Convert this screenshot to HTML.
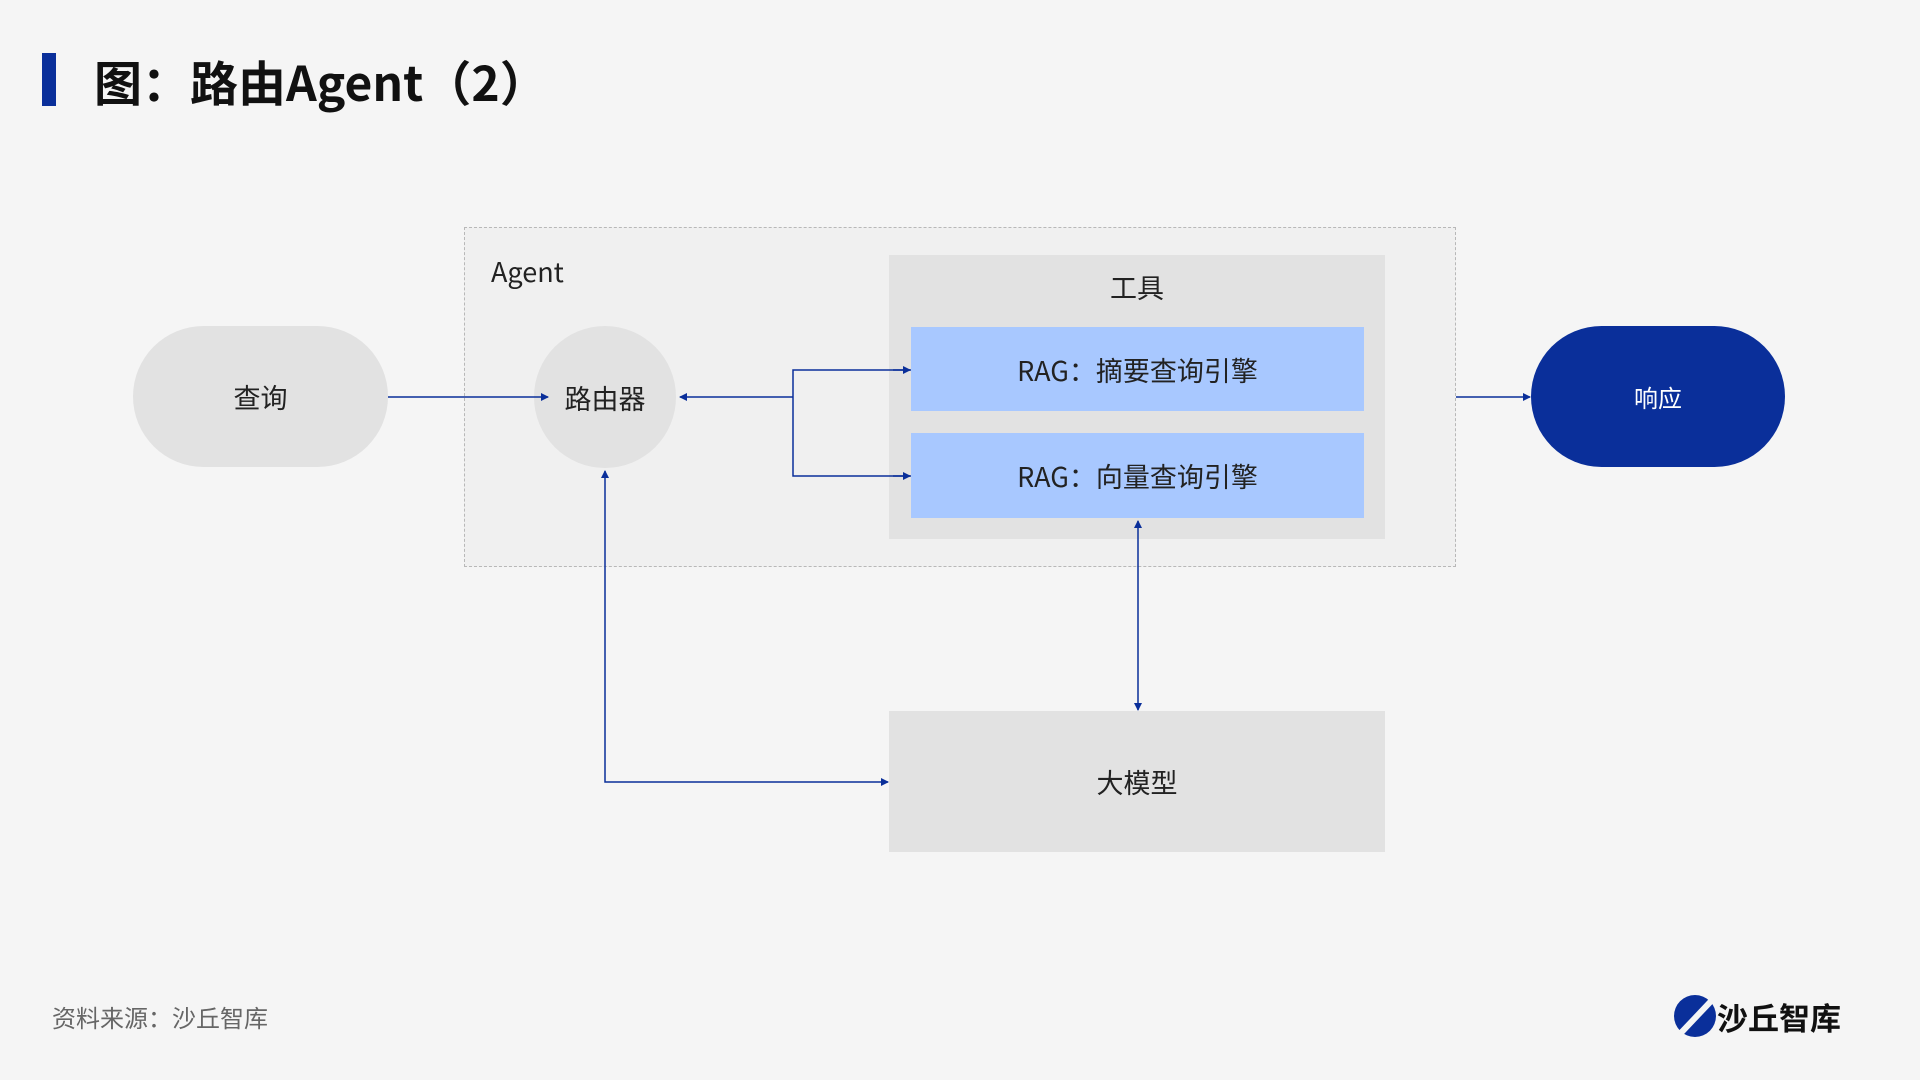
<!DOCTYPE html>
<html><head><meta charset="utf-8"><style>
body{margin:0;width:1920px;height:1080px;background:#f5f5f5;position:relative;overflow:hidden;font-family:"Noto Sans CJK SC","Liberation Sans",sans-serif;color:#222}
.a{position:absolute;box-sizing:border-box}
.c{display:flex;align-items:center;justify-content:center;font-size:27px}
</style></head><body>
<div class="a" style="left:42px;top:53px;width:14px;height:53px;background:#0a2f9a"></div>
<div class="a" style="left:94px;top:45px;font-size:48px;font-weight:bold;line-height:70px;color:#111">图：路由Agent（2）</div>

<div class="a" style="left:464px;top:227px;width:992px;height:340px;border:1px dashed #b8b8b8;background:#f0f0f0"></div>
<div class="a" style="left:491px;top:253px;font-size:27px;line-height:36px">Agent</div>
<div class="a" style="left:889px;top:255px;width:496px;height:284px;background:#e2e2e2"></div>
<div class="a c" style="left:889px;top:268px;width:496px;height:36px">工具</div>
<div class="a c" style="left:911px;top:327px;width:453px;height:84px;background:#a8c8ff">RAG：摘要查询引擎</div>
<div class="a c" style="left:911px;top:433px;width:453px;height:85px;background:#a8c8ff">RAG：向量查询引擎</div>

<div class="a c" style="left:133px;top:326px;width:255px;height:141px;border-radius:71px;background:#e2e2e2">查询</div>
<div class="a c" style="left:534px;top:326px;width:142px;height:142px;border-radius:50%;background:#e2e2e2">路由器</div>
<div class="a c" style="left:1531px;top:326px;width:254px;height:141px;border-radius:71px;background:#0a2f9a;color:#fff;font-size:24px">响应</div>
<div class="a c" style="left:889px;top:711px;width:496px;height:141px;background:#e2e2e2">大模型</div>

<svg class="a" style="left:0;top:0" width="1920" height="1080">
<defs><marker id="m" markerWidth="8" markerHeight="8" refX="7" refY="4" orient="auto-start-reverse" markerUnits="userSpaceOnUse"><path d="M0,0L8,4L0,8z" fill="#0a2f9a"/></marker></defs>
<g stroke="#0a2f9a" stroke-width="1.5" fill="none">
<line x1="388" y1="397" x2="548" y2="397" marker-end="url(#m)"/>
<line x1="793" y1="397" x2="680" y2="397" marker-end="url(#m)"/>
<polyline points="911,370 793,370 793,476 911,476"/>
<line x1="893" y1="370" x2="910" y2="370" marker-end="url(#m)"/>
<line x1="893" y1="476" x2="910" y2="476" marker-end="url(#m)"/>
<line x1="1138" y1="521" x2="1138" y2="710" marker-start="url(#m)" marker-end="url(#m)"/>
<polyline points="605,471 605,782 888,782" marker-start="url(#m)" marker-end="url(#m)"/>
<line x1="1456" y1="397" x2="1530" y2="397" marker-end="url(#m)"/>
</g>
<circle cx="1695" cy="1016" r="21" fill="#0a2f9a"/>
<line x1="1678" y1="1036" x2="1714" y2="998" stroke="#f5f5f5" stroke-width="6"/>
</svg>
<div class="a" style="left:52px;top:1001px;font-size:24px;color:#666;line-height:32px">资料来源：沙丘智库</div>
<div class="a" style="left:1717px;top:995px;font-size:31px;font-weight:bold;color:#111;line-height:44px">沙丘智库</div>
</body></html>
